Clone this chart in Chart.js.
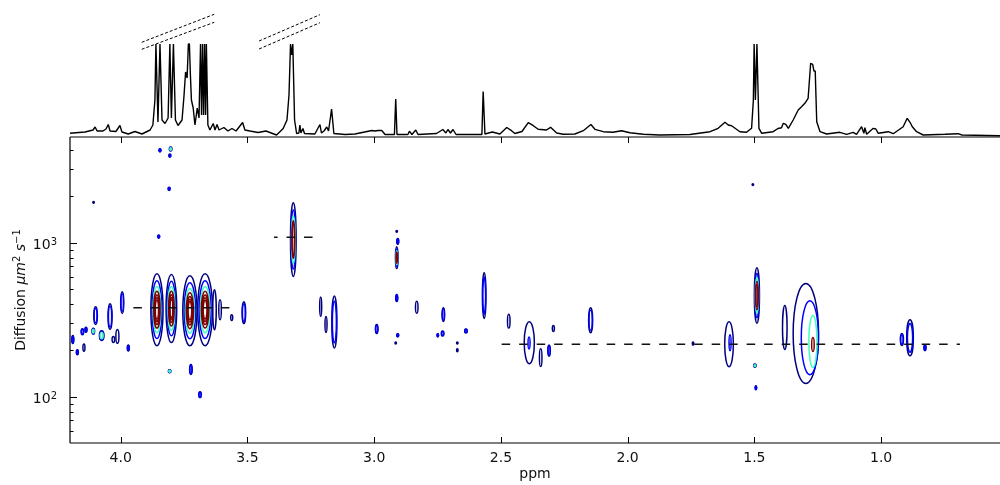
<!DOCTYPE html>
<html lang="en">
<head>
<meta charset="UTF-8">
<title>DOSY spectrum</title>
<script src="https://cdn.jsdelivr.net/npm/chart.js"></script>
<style>
  body { margin: 0; background: #fff; }
  .wrap { position: relative; width: 1000px; height: 485px; }
  .wrap canvas { position: absolute; left: 0; top: 0; }
</style>
</head>
<body>
<div class="wrap">
  <canvas id="dosyChart" width="1000" height="485"></canvas>
  <canvas id="specChart" width="1000" height="137"></canvas>
</div>
<script>
// axis ranges
const ppmMax = 4.2, ppmMin = 0.531;
const diffMin = 50, diffMax = 4850;
const specMin = -3, specMax = 134;

const xTicks = [4.0, 3.5, 3.0, 2.5, 2.0, 1.5, 1.0];
const yMajorTicks = [100, 1000];
const yMinorTicks = [60, 70, 80, 90, 200, 300, 400, 500, 600, 700, 800, 900, 2000, 3000, 4000];

// 1D spectrum (top)
const specPpm = [4.200,4.141,4.109,4.101,4.093,4.070,4.058,4.049,4.042,4.019,4.003,3.995,3.970,3.944,3.916,3.884,3.873,3.865,3.861,3.853,
  3.845,3.837,3.825,3.813,3.806,3.800,3.792,3.784,3.774,3.758,3.750,3.744,3.738,3.733,3.729,3.725,3.721,3.714,3.707,3.698,
  3.691,3.685,3.681,3.677,3.673,3.669,3.665,3.662,3.656,3.648,3.635,3.628,3.620,3.612,3.593,3.577,3.561,3.545,3.519,3.510,
  3.490,3.458,3.427,3.385,3.359,3.344,3.336,3.330,3.326,3.321,3.314,3.306,3.297,3.293,3.289,3.281,3.275,3.234,3.214,3.208,
  3.198,3.187,3.180,3.168,3.159,3.115,3.076,3.009,2.997,2.985,2.970,2.957,2.920,2.915,2.910,2.867,2.861,2.851,2.836,2.827,
  2.754,2.729,2.717,2.709,2.699,2.689,2.677,2.575,2.570,2.563,2.534,2.504,2.477,2.458,2.445,2.417,2.392,2.372,2.353,2.320,
  2.304,2.280,2.254,2.208,2.175,2.145,2.129,2.096,2.058,2.024,1.991,1.938,1.873,1.754,1.675,1.643,1.616,1.603,1.590,1.557,
  1.531,1.511,1.504,1.501,1.496,1.490,1.482,1.471,1.426,1.407,1.393,1.386,1.376,1.366,1.347,1.327,1.314,1.301,1.288,1.278,
  1.270,1.265,1.260,1.254,1.241,1.215,1.163,1.136,1.110,1.097,1.077,1.068,1.064,1.057,1.031,1.021,1.011,0.972,0.952,0.913,
  0.897,0.886,0.877,0.860,0.834,0.748,0.696,0.681,0.531];
const specInt = [0.7,2,4,7,3,3,5,9.5,3,2.5,8.5,2,0,2.5,0,4,9,34,90,12,
  90,14,10.5,16,90,16,90,14,8.5,14,39,62,56,90,90,59,34,26,9,26,
  16,90,19,90,19,90,19,90,9,4,10.5,4,9.5,4,6.5,3,5.5,3,11.5,4,
  3,1.5,3,-1,5.5,14,39,90,79,90,14,0.5,1,9,1,5.5,0.5,0,9.5,1,
  3,7,3,25,0.5,-0.5,0,3.5,3,3.5,3.5,-0.5,-0.5,35,-0.5,-0.5,2.7,-0.5,4,-0.5,
  0.5,4.5,1,4.5,1,4.5,-0.5,-0.5,42.5,0,2,0,6.5,3.3,0.5,2.5,11.3,8.3,4.7,4,
  6.7,1,-0.3,0,3.3,9.5,4.7,2.3,1.7,3.3,1.3,-0.3,-1,-0.5,2.3,5.7,11.7,9,8.3,2.3,
  1.7,5.7,34,90,34,90,5.7,0.7,2.3,5.5,6.3,10.7,9.7,5.7,14,24,27.3,30.7,35.7,70.7,
  69.7,63,63,12.3,2.3,0,1.7,-0.3,1.7,-0.3,7.3,0.7,6.3,-0.3,5.7,5,0.7,2.3,0.3,7.3,
  15.7,11.7,7.3,2.3,-1,-0.3,0.3,-1,-1.7];

// axis-break marks over the truncated peaks
const breakFromPpm = [3.917, 3.917, 3.454, 3.454];
const breakToPpm   = [3.631, 3.631, 3.214, 3.214];
const breakFromInt = [91.7, 84.7, 93, 85];
const breakToInt   = [119.7, 111.7, 119.3, 111.3];

// DOSY contours: centre (ppm, diffusion), half width (ppm), half spread (decades), level range
const contourPpm = [4.189,4.171,4.151,4.145,4.137,4.108,4.099,4.075,4.042,4.029,4.013,3.994,3.970,4.107,
  3.845,3.803,3.806,3.809,3.850,3.857,3.800,3.727,3.667,3.630,3.608,3.562,3.514,3.723,3.807,3.687,
  3.319,3.211,3.190,3.157,2.990,2.911,2.907,2.911,2.911,2.907,2.915,2.832,2.749,2.730,2.727,2.672,2.672,2.638,
  2.566,2.469,2.388,2.389,2.343,2.310,2.293,2.146,1.742,1.600,1.596,1.490,1.506,1.498,1.494,
  1.297,1.380,1.281,1.269,1.269,0.918,0.886,0.827];
const contourD = [235,194,264,208,272,266,336,249,331,235,246,408,207,1827,
  3973,4055,3672,2234,1094,367,373,361,367,367,367,326,351,150,146,103,
  1046,384,294,305,275,1184,1019,799,437,250,223,381,250,257,341,223,200,267,
  453,309,224,223,179,199,277,313,221,219,224,453,2382,159,114,
  257,281,241,228,218,235,241,208];
const contourWidth = [.004,.004,.005,.004,.004,.005,.007,.009,.008,.005,.006,.006,.004,.003,
  .004,.005,.004,.004,.004,.024,.021,.028,.029,.007,.005,.004,.007,.005,.005,.005,
  .011,.004,.004,.010,.005,.003,.004,.005,.004,.004,.003,.005,.003,.005,.005,.003,.003,.005,
  .007,.005,.020,.004,.005,.005,.004,.008,.003,.017,.004,.010,.003,.005,.003,
  .050,.009,.034,.016,.005,.006,.013,.004];
const contourSpread = [.026,.016,.019,.023,.016,.019,.058,.032,.084,.019,.045,.071,.019,.006,
  .010,.013,.010,.010,.010,.234,.221,.227,.234,.130,.065,.019,.071,.032,.010,.019,
  .240,.062,.052,.169,.029,.006,.019,.071,.023,.010,.006,.039,.010,.016,.045,.006,.010,.013,
  .149,.045,.136,.039,.058,.036,.019,.081,.010,.146,.052,.180,.006,.010,.013,
  .325,.143,.240,.169,.045,.039,.117,.019];
const contourFrom = [0,0,0,0,0,0,0,0,0,0,0,0,0,0,
  0,0,0,0,0,0,0,0,0,0,0,0,0,0,0,0,
  0,0,0,0,0,0,0,0,0,0,0,0,0,0,0,0,0,0,
  0,0,0,1,0,0,0,0,0,0,1,0,0,0,0,
  0,0,1,2,3,0,0,0];
const contourTo = [1,1,1,0,1,2,1,2,1,0,0,1,1,0,
  1,2,1,1,1,6,6,6,6,0,0,0,1,1,2,1,
  4,0,0,1,1,0,1,3,1,1,0,0,1,1,1,0,0,1,
  1,0,0,1,0,1,0,1,0,0,1,4,0,2,1,
  0,0,1,2,3,1,1,1];
const levelColors = ['#00007f', '#0000ff', '#40ffbf', '#7f0000'];

// fitted diffusion guide lines
const guideFrom = [3.95, 3.395, 2.497];
const guideTo   = [3.56, 3.241, 0.689];
const guideD    = [377, 1082, 219];
const guideOffset = [0, 5, 0];

const font = '"DejaVu Sans", sans-serif';

const contourPlugin = {
  id: 'contours',
  beforeDatasetsDraw(chart) {
    const { ctx, chartArea: a, scales: { x, y } } = chart;
    ctx.save();
    ctx.beginPath();
    ctx.rect(a.left, a.top, a.right - a.left, a.bottom - a.top);
    ctx.clip();
    ctx.lineWidth = 1.5;
    contourPpm.forEach((p, i) => {
      const d = contourD[i];
      const cx = x.getPixelForValue(p), cy = y.getPixelForValue(d);
      for (let k = contourFrom[i]; k <= contourTo[i]; k++) {
        const s = Math.pow(0.8, k - contourFrom[i]);
        const rx = Math.abs(x.getPixelForValue(p + contourWidth[i] * s) - cx);
        const ry = Math.abs(y.getPixelForValue(d * Math.pow(10, contourSpread[i] * s)) - cy);
        ctx.strokeStyle = levelColors[Math.min(k, levelColors.length - 1)];
        ctx.beginPath();
        ctx.ellipse(cx, cy, Math.max(rx, 0.7), Math.max(ry, 0.7), 0, 0, Math.PI * 2);
        ctx.stroke();
      }
    });
    ctx.restore();
  }
};

const axesPlugin = {
  id: 'mplAxes',
  afterDraw(chart) {
    const { ctx, chartArea: a, scales: { x, y } } = chart;
    ctx.save();
    ctx.strokeStyle = '#000';
    ctx.lineWidth = 1.2;
    ctx.beginPath();
    ctx.moveTo(a.left, a.top); ctx.lineTo(a.right, a.top);
    ctx.moveTo(a.left, a.top); ctx.lineTo(a.left, a.bottom);
    ctx.moveTo(a.left, a.bottom); ctx.lineTo(a.right, a.bottom);
    ctx.stroke();

    // inward ticks
    ctx.lineWidth = 1;
    ctx.beginPath();
    xTicks.forEach(v => {
      const px = Math.round(x.getPixelForValue(v)) + 0.5;
      ctx.moveTo(px, a.bottom); ctx.lineTo(px, a.bottom - 6);
      ctx.moveTo(px, a.top); ctx.lineTo(px, a.top + 6);
    });
    yMajorTicks.forEach(v => {
      const py = Math.round(y.getPixelForValue(v)) + 0.5;
      ctx.moveTo(a.left, py); ctx.lineTo(a.left + 7, py);
    });
    yMinorTicks.forEach(v => {
      const py = Math.round(y.getPixelForValue(v)) + 0.5;
      ctx.moveTo(a.left, py); ctx.lineTo(a.left + 3.5, py);
    });
    ctx.stroke();

    // tick labels
    ctx.fillStyle = '#111';
    ctx.font = '14px ' + font;
    ctx.textAlign = 'center';
    ctx.textBaseline = 'alphabetic';
    xTicks.forEach(v => ctx.fillText(v.toFixed(1), x.getPixelForValue(v), a.bottom + 19));
    ctx.fillText('ppm', (a.left + a.right) / 2, a.bottom + 34.5);

    ctx.textAlign = 'left';
    yMajorTicks.forEach(v => {
      const py = y.getPixelForValue(v);
      const exp = String(Math.round(Math.log10(v)));
      ctx.font = '10px ' + font;
      const we = ctx.measureText(exp).width;
      ctx.font = '14px ' + font;
      const wb = ctx.measureText('10').width;
      const right = a.left - 13;
      ctx.fillText('10', right - we - wb, py + 6.3);
      ctx.font = '10px ' + font;
      ctx.fillText(exp, right - we, py + 2);
    });

    // y title with math part
    const parts = [
      { t: 'Diffusion ', f: '14px ' + font, dy: 0 },
      { t: 'μm', f: 'italic 14px ' + font, dy: 0 },
      { t: '2', f: '10px ' + font, dy: -5.5 },
      { t: ' s', f: 'italic 14px ' + font, dy: 0 },
      { t: '−1', f: '10px ' + font, dy: -5.5 }
    ];
    let total = 0;
    parts.forEach(p => { ctx.font = p.f; p.w = ctx.measureText(p.t).width; total += p.w; });
    ctx.translate(25, (a.top + a.bottom) / 2 + total / 2);
    ctx.rotate(-Math.PI / 2);
    let cur = 0;
    parts.forEach(p => { ctx.font = p.f; ctx.fillText(p.t, cur, p.dy); cur += p.w; });
    ctx.restore();
  }
};

const guideSets = guideD.map((d, i) => ({
  data: [{ x: guideFrom[i], y: d }, { x: guideTo[i], y: d }],
  borderColor: '#111',
  borderWidth: 1.5,
  borderDash: [8.5, 9],
  borderDashOffset: guideOffset[i],
  pointRadius: 0,
  fill: false
}));

new Chart(document.getElementById('dosyChart'), {
  type: 'line',
  data: { datasets: guideSets },
  options: {
    responsive: false,
    animation: false,
    layout: { padding: { left: 70, top: 137, right: 0, bottom: 42 } },
    scales: {
      x: { type: 'linear', reverse: true, min: ppmMin, max: ppmMax, display: false },
      y: { type: 'logarithmic', min: diffMin, max: diffMax, display: false }
    },
    plugins: { legend: { display: false }, tooltip: { enabled: false } }
  },
  plugins: [contourPlugin, axesPlugin]
});

const specSets = [{
  data: specPpm.map((p, i) => ({ x: p, y: specInt[i] })),
  borderColor: '#000',
  borderWidth: 1.4,
  borderJoinStyle: 'bevel',
  pointRadius: 0,
  tension: 0,
  fill: false
}];
breakFromPpm.forEach((p, i) => {
  specSets.push({
    data: [{ x: p, y: breakFromInt[i] }, { x: breakToPpm[i], y: breakToInt[i] }],
    borderColor: '#000',
    borderWidth: 1,
    borderDash: [3, 2],
    pointRadius: 0,
    fill: false
  });
});

new Chart(document.getElementById('specChart'), {
  type: 'line',
  data: { datasets: specSets },
  options: {
    responsive: false,
    animation: false,
    layout: { padding: { left: 70, top: 0, right: 0, bottom: 0 } },
    scales: {
      x: { type: 'linear', reverse: true, min: ppmMin, max: ppmMax, display: false },
      y: { min: specMin, max: specMax, display: false }
    },
    plugins: { legend: { display: false }, tooltip: { enabled: false } }
  }
});
</script>
</body>
</html>
